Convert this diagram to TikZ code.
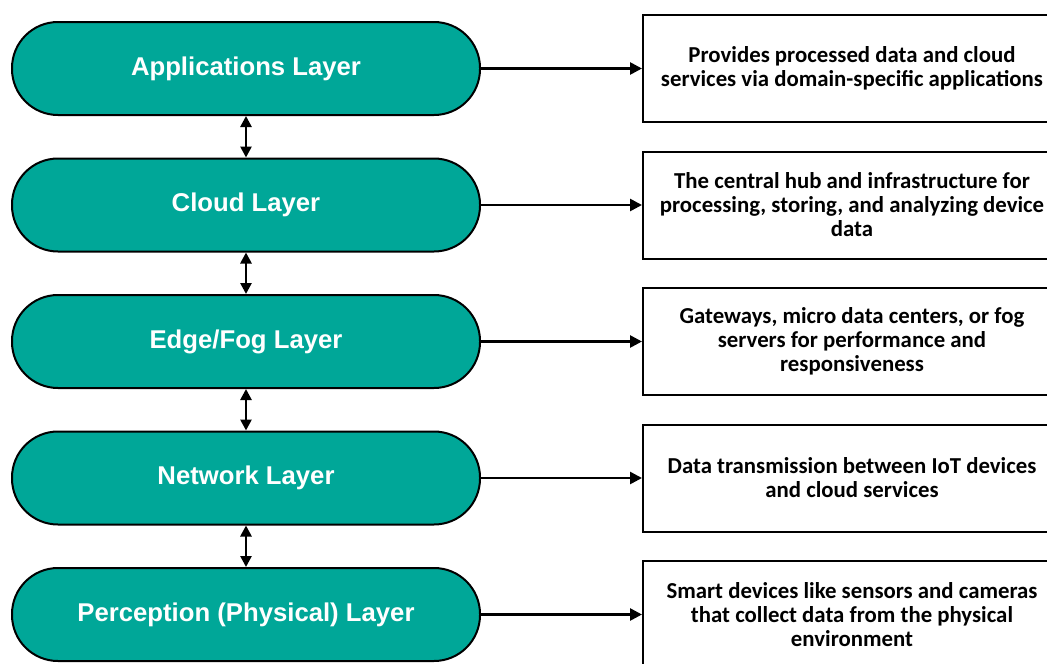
\documentclass[tikz,border=0pt]{standalone}
\usepackage{fontspec}
\setmainfont{Liberation Sans}
\newfontfamily\descfont{Carlito}
\usetikzlibrary{arrows.meta}
\definecolor{teal1}{RGB}{0,167,152}
\begin{document}
\begin{tikzpicture}[x=1pt,y=-1pt,
  layer/.style={draw=black,line width=2pt,fill=teal1,rounded corners=46pt,
    minimum width=468pt,minimum height=93pt,inner sep=0pt,
    text=white,font=\fontsize{25.7}{30}\selectfont\bfseries},
  desc/.style={draw=black,line width=2pt,fill=white,
    minimum width=418pt,minimum height=107pt,inner sep=0pt,align=center,
    font=\descfont\fontsize{22.8}{24}\selectfont\bfseries},
  harrow/.style={line width=2.6pt,-{Triangle[length=12pt,width=12pt]}},
  varrow/.style={line width=2.6pt,{Triangle[length=11pt,width=11pt]}-{Triangle[length=11pt,width=11pt]}}
]
\useasboundingbox (0,0) rectangle (1047,664);
\begin{scope}
\clip (0,0) rectangle (1047,664);
\foreach \n/\y/\t in {a/68.5/{Applications Layer}, b/205/{Cloud Layer}, c/341.5/{Edge/Fog Layer}, d/478/{Network Layer}, e/614.5/{Perception (Physical) Layer}}{
  \node[layer] (L\n) at (246,\y) {\t};
}
\node[desc] (Da) at (852,68.5) {Provides processed data and cloud\\services via domain-specific applications};
\node[desc] (Db) at (852,205) {The central hub and infrastructure for\\processing, storing, and analyzing device\\data};
\node[desc] (Dc) at (852,341.5) {Gateways, micro data centers, or fog\\servers for performance and\\responsiveness};
\node[desc] (Dd) at (852,478) {Data transmission between IoT devices\\and cloud services};
\node[desc] (De) at (852,614.5) {Smart devices like sensors and cameras\\that collect data from the physical\\environment};
\foreach \n in {a,b,c,d,e}{
  \draw[harrow] (L\n.east) -- (D\n.west);
}
\draw[varrow] (La.south) -- (Lb.north);
\draw[varrow] (Lb.south) -- (Lc.north);
\draw[varrow] (Lc.south) -- (Ld.north);
\draw[varrow] (Ld.south) -- (Le.north);
\end{scope}
\end{tikzpicture}
\end{document}
